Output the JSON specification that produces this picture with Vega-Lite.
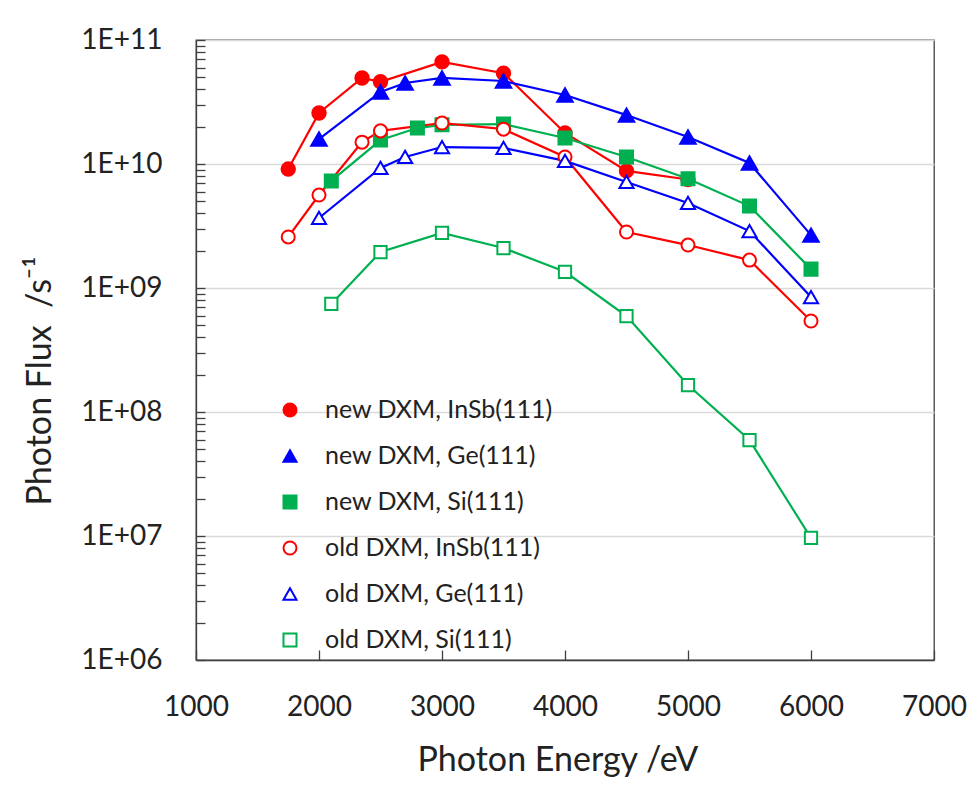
{
  "$schema": "https://vega.github.io/schema/vega-lite/v6.json",
  "width": 738,
  "height": 620,
  "autosize": {"type": "none"},
  "padding": {"left": 196, "top": 40, "right": 45, "bottom": 129},
  "background": "white",
  "config": {"font": "Lato", "view": {"stroke": "#404040", "strokeWidth": 1.3}},
  "data": {"values": [
    {"series": "new DXM, InSb(111)", "energy": 1750, "flux": 9.1e9},
    {"series": "new DXM, InSb(111)", "energy": 2000, "flux": 2.58e10},
    {"series": "new DXM, InSb(111)", "energy": 2350, "flux": 4.94e10},
    {"series": "new DXM, InSb(111)", "energy": 2500, "flux": 4.6e10},
    {"series": "new DXM, InSb(111)", "energy": 3000, "flux": 6.66e10},
    {"series": "new DXM, InSb(111)", "energy": 3500, "flux": 5.4e10},
    {"series": "new DXM, InSb(111)", "energy": 4000, "flux": 1.78e10},
    {"series": "new DXM, InSb(111)", "energy": 4500, "flux": 8.8e9},
    {"series": "new DXM, InSb(111)", "energy": 5000, "flux": 7.5e9},
    {"series": "new DXM, Ge(111)", "energy": 2000, "flux": 1.59e10},
    {"series": "new DXM, Ge(111)", "energy": 2500, "flux": 3.81e10},
    {"series": "new DXM, Ge(111)", "energy": 2700, "flux": 4.5e10},
    {"series": "new DXM, Ge(111)", "energy": 3000, "flux": 4.94e10},
    {"series": "new DXM, Ge(111)", "energy": 3500, "flux": 4.67e10},
    {"series": "new DXM, Ge(111)", "energy": 4000, "flux": 3.6e10},
    {"series": "new DXM, Ge(111)", "energy": 4500, "flux": 2.48e10},
    {"series": "new DXM, Ge(111)", "energy": 5000, "flux": 1.65e10},
    {"series": "new DXM, Ge(111)", "energy": 5500, "flux": 1.02e10},
    {"series": "new DXM, Ge(111)", "energy": 6000, "flux": 2.67e9},
    {"series": "new DXM, Si(111)", "energy": 2100, "flux": 7.3e9},
    {"series": "new DXM, Si(111)", "energy": 2500, "flux": 1.56e10},
    {"series": "new DXM, Si(111)", "energy": 2800, "flux": 1.95e10},
    {"series": "new DXM, Si(111)", "energy": 3000, "flux": 2.07e10},
    {"series": "new DXM, Si(111)", "energy": 3500, "flux": 2.1e10},
    {"series": "new DXM, Si(111)", "energy": 4000, "flux": 1.62e10},
    {"series": "new DXM, Si(111)", "energy": 4500, "flux": 1.14e10},
    {"series": "new DXM, Si(111)", "energy": 5000, "flux": 7.6e9},
    {"series": "new DXM, Si(111)", "energy": 5500, "flux": 4.58e9},
    {"series": "new DXM, Si(111)", "energy": 6000, "flux": 1.42e9},
    {"series": "old DXM, InSb(111)", "energy": 1750, "flux": 2.58e9},
    {"series": "old DXM, InSb(111)", "energy": 2000, "flux": 5.62e9},
    {"series": "old DXM, InSb(111)", "energy": 2350, "flux": 1.5e10},
    {"series": "old DXM, InSb(111)", "energy": 2500, "flux": 1.85e10},
    {"series": "old DXM, InSb(111)", "energy": 3000, "flux": 2.14e10},
    {"series": "old DXM, InSb(111)", "energy": 3500, "flux": 1.91e10},
    {"series": "old DXM, InSb(111)", "energy": 4000, "flux": 1.14e10},
    {"series": "old DXM, InSb(111)", "energy": 4500, "flux": 2.83e9},
    {"series": "old DXM, InSb(111)", "energy": 5000, "flux": 2.22e9},
    {"series": "old DXM, InSb(111)", "energy": 5500, "flux": 1.68e9},
    {"series": "old DXM, InSb(111)", "energy": 6000, "flux": 5.42e8},
    {"series": "old DXM, Ge(111)", "energy": 2000, "flux": 3.67e9},
    {"series": "old DXM, Ge(111)", "energy": 2500, "flux": 9.3e9},
    {"series": "old DXM, Ge(111)", "energy": 2700, "flux": 1.14e10},
    {"series": "old DXM, Ge(111)", "energy": 3000, "flux": 1.37e10},
    {"series": "old DXM, Ge(111)", "energy": 3500, "flux": 1.35e10},
    {"series": "old DXM, Ge(111)", "energy": 4000, "flux": 1.06e10},
    {"series": "old DXM, Ge(111)", "energy": 4500, "flux": 7.16e9},
    {"series": "old DXM, Ge(111)", "energy": 5000, "flux": 4.85e9},
    {"series": "old DXM, Ge(111)", "energy": 5500, "flux": 2.88e9},
    {"series": "old DXM, Ge(111)", "energy": 6000, "flux": 8.45e8},
    {"series": "old DXM, Si(111)", "energy": 2100, "flux": 7.43e8},
    {"series": "old DXM, Si(111)", "energy": 2500, "flux": 1.95e9},
    {"series": "old DXM, Si(111)", "energy": 3000, "flux": 2.78e9},
    {"series": "old DXM, Si(111)", "energy": 3500, "flux": 2.1e9},
    {"series": "old DXM, Si(111)", "energy": 4000, "flux": 1.35e9},
    {"series": "old DXM, Si(111)", "energy": 4500, "flux": 5.94e8},
    {"series": "old DXM, Si(111)", "energy": 5000, "flux": 1.65e8},
    {"series": "old DXM, Si(111)", "energy": 5500, "flux": 5.94e7},
    {"series": "old DXM, Si(111)", "energy": 6000, "flux": 9.64e6}
  ]},
  "encoding": {
    "x": {
      "field": "energy", "type": "quantitative",
      "scale": {"domain": [1000, 7000], "nice": false, "zero": false},
      "axis": {
        "values": [1000, 2000, 3000, 4000, 5000, 6000, 7000],
        "format": "d",
        "title": "Photon Energy /eV",
        "grid": false,
        "domainColor": "#404040", "domainWidth": 1.3,
        "tickColor": "#404040", "tickSize": -10, "tickWidth": 1.3,
        "labelFontSize": 28, "labelColor": "#222222", "labelBaseline": "alphabetic",
        "labelPadding": 65, "labelFlush": false, "labelOverlap": false,
        "titleFontSize": 34, "titleFontWeight": "normal", "titleColor": "#222222",
        "titleAlign": "left", "titleBaseline": "alphabetic", "titleX": 221, "titleY": 110
      }
    },
    "y": {
      "field": "flux", "type": "quantitative",
      "scale": {"type": "log", "domain": [1e6, 1e11], "nice": false},
      "axis": {
        "values": [1e6, 2e6, 3e6, 4e6, 5e6, 6e6, 7e6, 8e6, 9e6, 1e7, 2e7, 3e7, 4e7, 5e7, 6e7, 7e7, 8e7, 9e7, 1e8, 2e8, 3e8, 4e8, 5e8, 6e8, 7e8, 8e8, 9e8, 1e9, 2e9, 3e9, 4e9, 5e9, 6e9, 7e9, 8e9, 9e9, 1e10, 2e10, 3e10, 4e10, 5e10, 6e10, 7e10, 8e10, 9e10, 1e11],
        "labelExpr": "abs(log(datum.value)/LN10 - round(log(datum.value)/LN10)) < 0.001 ? '1E+' + (round(log(datum.value)/LN10) < 10 ? '0' : '') + round(log(datum.value)/LN10) : ''",
        "title": "Photon Flux\u00a0 /s⁻¹",
        "grid": true, "gridColor": "#d9d9d9", "gridWidth": 1.3,
        "gridOpacity": {"condition": {"test": "abs(log(datum.value)/LN10 - round(log(datum.value)/LN10)) < 0.001", "value": 1}, "value": 0},
        "domainColor": "#404040", "domainWidth": 1.3,
        "tickColor": "#404040", "tickSize": -9, "tickWidth": 1.3,
        "labelFontSize": 28, "labelColor": "#222222", "labelPadding": 43,
        "labelFlush": false, "labelOverlap": false,
        "titleFontSize": 34, "titleFontWeight": "normal", "titleColor": "#222222",
        "titleAngle": -90, "titleAlign": "left", "titleBaseline": "alphabetic",
        "titleX": -146, "titleY": 465
      }
    }
  },
  "layer": [
    {
      "mark": {"type": "line", "strokeWidth": 2.2},
      "encoding": {
        "color": {
          "field": "series", "type": "nominal",
          "scale": {"domain": ["old DXM, Si(111)", "old DXM, Ge(111)", "old DXM, InSb(111)", "new DXM, Si(111)", "new DXM, Ge(111)", "new DXM, InSb(111)"],
                    "range": ["#00B050", "#0000FF", "#FF0000", "#00B050", "#0000FF", "#FF0000"]},
          "legend": null
        }
      }
    },
    {
      "mark": {"type": "point", "filled": true, "opacity": 1, "strokeWidth": 2},
      "encoding": {
        "shape": {
          "field": "series", "type": "nominal",
          "scale": {"domain": ["new DXM, InSb(111)", "new DXM, Ge(111)", "new DXM, Si(111)", "old DXM, InSb(111)", "old DXM, Ge(111)", "old DXM, Si(111)"],
                    "range": ["circle", "triangle-up", "square", "circle", "triangle-up", "square"]},
          "legend": {
            "title": null, "orient": "none", "legendX": 66, "legendY": 357.5, "padding": 0,
            "symbolSize": 169, "symbolStrokeWidth": 2, "symbolOpacity": 1, "symbolOffset": 15.5,
            "labelFontSize": 25, "labelColor": "#222222", "labelOffset": 22.5, "labelLimit": 400,
            "rowPadding": 20
          }
        },
        "size": {
          "field": "series", "type": "nominal",
          "scale": {"type": "ordinal", "domain": ["old DXM, Si(111)", "old DXM, Ge(111)", "old DXM, InSb(111)", "new DXM, Si(111)", "new DXM, Ge(111)", "new DXM, InSb(111)"],
                    "range": [150, 200, 170, 170, 240, 180]},
          "legend": null
        },
        "fill": {
          "field": "series", "type": "nominal",
          "scale": {"domain": ["new DXM, InSb(111)", "new DXM, Ge(111)", "new DXM, Si(111)", "old DXM, InSb(111)", "old DXM, Ge(111)", "old DXM, Si(111)"],
                    "range": ["#FF0000", "#0000FF", "#00B050", "#FFFFFF", "#FFFFFF", "#FFFFFF"]},
          "legend": {
            "title": null, "orient": "none", "legendX": 66, "legendY": 357.5, "padding": 0,
            "symbolSize": 169, "symbolStrokeWidth": 2, "symbolOpacity": 1, "symbolOffset": 15.5,
            "labelFontSize": 25, "labelColor": "#222222", "labelOffset": 22.5, "labelLimit": 400,
            "rowPadding": 20
          }
        },
        "stroke": {
          "field": "series", "type": "nominal",
          "scale": {"domain": ["new DXM, InSb(111)", "new DXM, Ge(111)", "new DXM, Si(111)", "old DXM, InSb(111)", "old DXM, Ge(111)", "old DXM, Si(111)"],
                    "range": ["#FF0000", "#0000FF", "#00B050", "#FF0000", "#0000FF", "#00B050"]},
          "legend": {
            "title": null, "orient": "none", "legendX": 66, "legendY": 357.5, "padding": 0,
            "symbolSize": 169, "symbolStrokeWidth": 2, "symbolOpacity": 1, "symbolOffset": 15.5,
            "labelFontSize": 25, "labelColor": "#222222", "labelOffset": 22.5, "labelLimit": 400,
            "rowPadding": 20
          }
        }
      }
    }
  ]
}
